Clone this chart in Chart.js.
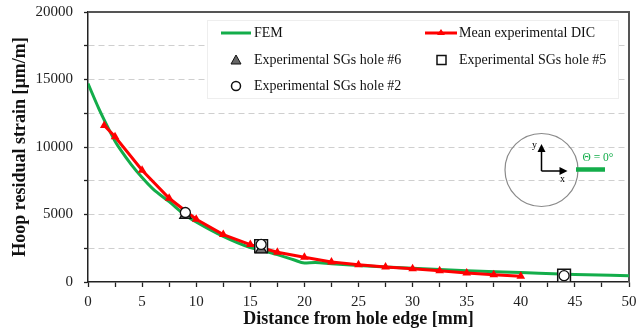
<!DOCTYPE html>
<html>
<head>
<meta charset="utf-8">
<script src="https://cdn.jsdelivr.net/npm/chart.js@4"></script>
<style>
  html, body { margin: 0; padding: 0; background: #fff; }
  #wrap { width: 637px; height: 329px; }
</style>
</head>
<body>
<div id="wrap"><canvas id="chart1" width="637" height="329"></canvas></div>
<script>
// FEM curve (green)
const femX = [0, 1, 2, 2.5, 3, 4, 5, 6, 7.5, 9, 10, 12.5, 15, 16, 17.5, 19, 20, 21, 22.5, 25, 27.5, 30, 35, 40, 45, 50];
const femY = [14700, 12850, 11200, 10430, 9800, 8700, 7740, 6900, 5950, 4950, 4450, 3380, 2550, 2350, 2030, 1650, 1410, 1450, 1350, 1220, 1110, 1010, 840, 700, 560, 470];

// Mean experimental DIC (red)
const dicX = [1.5, 2.5, 5, 7.5, 10, 12.5, 15, 17.5, 20, 22.5, 25, 27.5, 30, 32.5, 35, 37.5, 40];
const dicY = [11600, 10760, 8280, 6200, 4650, 3510, 2770, 2200, 1830, 1480, 1280, 1110, 990, 840, 670, 540, 420];

// strain gauges
const sg6X = [9, 16];
const sg6Y = [4950, 2400];
const sg2X = [9, 16, 44];
const sg2Y = [5150, 2780, 470];
const sg5X = [16, 44];
const sg5Y = [2650, 470];

const GREEN = '#13ad4a';
const RED = '#ff0000';
const SERIF = '"Liberation Serif", "Times New Roman", serif';

function pts(xs, ys) {
  return xs.map((x, i) => ({ x: x, y: ys[i] }));
}

// frame + custom legend + inset sketch
const extras = {
  id: 'extras',
  beforeDatasetsDraw(chart) {
    const { ctx, chartArea: a } = chart;
    ctx.save();
    ctx.strokeStyle = '#555';
    ctx.lineWidth = 2;
    ctx.beginPath();
    ctx.moveTo(a.left, a.top);
    ctx.lineTo(a.right, a.top);
    ctx.lineTo(a.right, a.bottom);
    ctx.stroke();
    ctx.restore();
  },
  afterDraw(chart) {
    const { ctx } = chart;
    const ds = chart.data.datasets;
    ctx.save();

    // legend box
    ctx.fillStyle = '#fff';
    ctx.strokeStyle = '#eee';
    ctx.lineWidth = 1;
    ctx.fillRect(207, 20, 411, 78);
    ctx.strokeRect(207.5, 20.5, 411, 78);

    ctx.font = '14px ' + SERIF;
    ctx.fillStyle = '#111';
    ctx.textBaseline = 'middle';
    ctx.textAlign = 'left';

    // FEM
    ctx.strokeStyle = GREEN;
    ctx.lineWidth = 3;
    ctx.beginPath(); ctx.moveTo(221, 33); ctx.lineTo(251, 33); ctx.stroke();
    ctx.fillText(ds[4].label, 254, 33);

    // DIC
    ctx.strokeStyle = RED;
    ctx.beginPath(); ctx.moveTo(425, 33); ctx.lineTo(457, 33); ctx.stroke();
    ctx.fillStyle = RED;
    ctx.beginPath(); ctx.moveTo(441, 29); ctx.lineTo(445, 35); ctx.lineTo(437, 35); ctx.closePath(); ctx.fill();
    ctx.fillStyle = '#111';
    ctx.fillText(ds[3].label, 459, 33);

    // hole #6
    ctx.fillStyle = '#666';
    ctx.strokeStyle = '#111';
    ctx.lineWidth = 1;
    ctx.beginPath(); ctx.moveTo(236, 55); ctx.lineTo(241, 64); ctx.lineTo(231, 64); ctx.closePath(); ctx.fill(); ctx.stroke();
    ctx.fillStyle = '#111';
    ctx.fillText(ds[1].label, 254, 60);

    // hole #5
    ctx.fillStyle = '#fff';
    ctx.lineWidth = 1.5;
    ctx.fillRect(437, 55.5, 9, 9);
    ctx.strokeRect(437, 55.5, 9, 9);
    ctx.fillStyle = '#111';
    ctx.fillText(ds[2].label, 459, 60);

    // hole #2
    ctx.beginPath(); ctx.arc(236, 86, 4.5, 0, Math.PI * 2);
    ctx.fillStyle = '#fff'; ctx.fill(); ctx.stroke();
    ctx.fillStyle = '#111';
    ctx.fillText(ds[0].label, 254, 86);

    // inset: hole with local axes
    const cx = 541.5, cy = 170;
    ctx.strokeStyle = '#8a8a8a';
    ctx.lineWidth = 1.2;
    ctx.beginPath(); ctx.arc(cx, cy, 36.5, 0, Math.PI * 2); ctx.stroke();

    ctx.strokeStyle = '#000';
    ctx.fillStyle = '#000';
    ctx.lineWidth = 1.5;
    ctx.beginPath(); ctx.moveTo(cx, cy + 1); ctx.lineTo(cx, cy - 20); ctx.moveTo(cx, cy + 1); ctx.lineTo(cx + 20, cy + 1); ctx.stroke();
    ctx.beginPath(); ctx.moveTo(cx, cy - 26); ctx.lineTo(cx + 4, cy - 18); ctx.lineTo(cx - 4, cy - 18); ctx.closePath(); ctx.fill();
    ctx.beginPath(); ctx.moveTo(cx + 26, cy + 1); ctx.lineTo(cx + 18, cy - 3); ctx.lineTo(cx + 18, cy + 5); ctx.closePath(); ctx.fill();
    ctx.font = '10px ' + SERIF;
    ctx.textAlign = 'center';
    ctx.fillText('y', cx - 7, cy - 25);
    ctx.fillText('x', cx + 21, cy + 9);

    ctx.strokeStyle = GREEN;
    ctx.lineWidth = 4.5;
    ctx.beginPath(); ctx.moveTo(576, 169.5); ctx.lineTo(605, 169.5); ctx.stroke();
    ctx.fillStyle = GREEN;
    ctx.font = '11.5px ' + SERIF;
    ctx.fillText('\u0398 = 0\u00b0', 598, 158);

    ctx.restore();
  }
};

const chart1 = new Chart(document.getElementById('chart1'), {
  type: 'scatter',
  data: {
    datasets: [
      {
        label: 'Experimental SGs hole #2',
        data: pts(sg2X, sg2Y),
        pointStyle: 'circle',
        pointRadius: 5,
        backgroundColor: '#fff',
        borderColor: '#111',
        borderWidth: 1.3,
        order: 0
      },
      {
        label: 'Experimental SGs hole #6',
        data: pts(sg6X, sg6Y),
        pointStyle: 'triangle',
        pointRadius: 6.5,
        backgroundColor: '#6e6e6e',
        borderColor: '#111',
        borderWidth: 1.3,
        order: 1
      },
      {
        label: 'Experimental SGs hole #5',
        data: pts(sg5X, sg5Y),
        pointStyle: 'rect',
        pointRadius: 9,
        backgroundColor: '#fff',
        borderColor: '#111',
        borderWidth: 1.5,
        order: 2
      },
      {
        label: 'Mean experimental DIC',
        data: pts(dicX, dicY),
        showLine: true,
        borderColor: RED,
        backgroundColor: RED,
        borderWidth: 3,
        pointStyle: 'triangle',
        pointRadius: 5,
        pointBorderWidth: 0,
        tension: 0,
        order: 3
      },
      {
        label: 'FEM',
        data: pts(femX, femY),
        showLine: true,
        borderColor: GREEN,
        backgroundColor: GREEN,
        borderWidth: 3,
        pointRadius: 0,
        cubicInterpolationMode: 'monotone',
        order: 4
      }
    ]
  },
  options: {
    responsive: false,
    animation: false,
    layout: { autoPadding: false, padding: { top: 12, right: 8, left: 0, bottom: 0 } },
    plugins: {
      legend: { display: false },
      tooltip: { enabled: false }
    },
    scales: {
      x: {
        type: 'linear',
        min: 0,
        max: 50,
        afterFit: (s) => { s.height = 47; s.paddingLeft = 0; s.paddingRight = 0; },
        ticks: {
          stepSize: 2.5,
          autoSkip: false,
          maxRotation: 0,
          padding: 6,
          color: '#222',
          font: { family: SERIF, size: 15 },
          callback: (v) => (v % 5 === 0 ? v : '')
        },
        grid: {
          drawOnChartArea: false,
          drawTicks: true,
          tickLength: 5,
          tickColor: '#222',
          tickWidth: 1.3
        },
        border: { color: '#222', width: 1.5 },
        title: {
          display: true,
          text: 'Distance from hole edge [mm]',
          color: '#111',
          padding: { top: 0, bottom: -1 },
          font: { family: SERIF, size: 18, weight: 'bold' }
        }
      },
      y: {
        min: 0,
        max: 20000,
        afterFit: (s) => { s.width = 88; s.paddingTop = 0; s.paddingBottom = 0; },
        ticks: {
          stepSize: 2500,
          autoSkip: false,
          padding: 11,
          color: '#222',
          font: { family: SERIF, size: 15 },
          callback: (v) => (v % 5000 === 0 ? v : '')
        },
        grid: {
          color: (c) => (c.tick && (c.tick.value === 0 || c.tick.value === 20000) ? 'rgba(0,0,0,0)' : '#cfcfcf'),
          lineWidth: 1,
          tickBorderDash: [],
          drawTicks: true,
          tickLength: 4,
          tickColor: '#222',
          tickWidth: 1.3
        },
        border: { color: '#222', width: 1.5, dash: [6, 4] },
        title: {
          display: true,
          text: 'Hoop residual strain [\u00b5m/m]',
          color: '#111',
          padding: { top: 10, bottom: 0 },
          font: { family: SERIF, size: 18, weight: 'bold' }
        }
      }
    }
  },
  plugins: [extras]
});
</script>
</body>
</html>
